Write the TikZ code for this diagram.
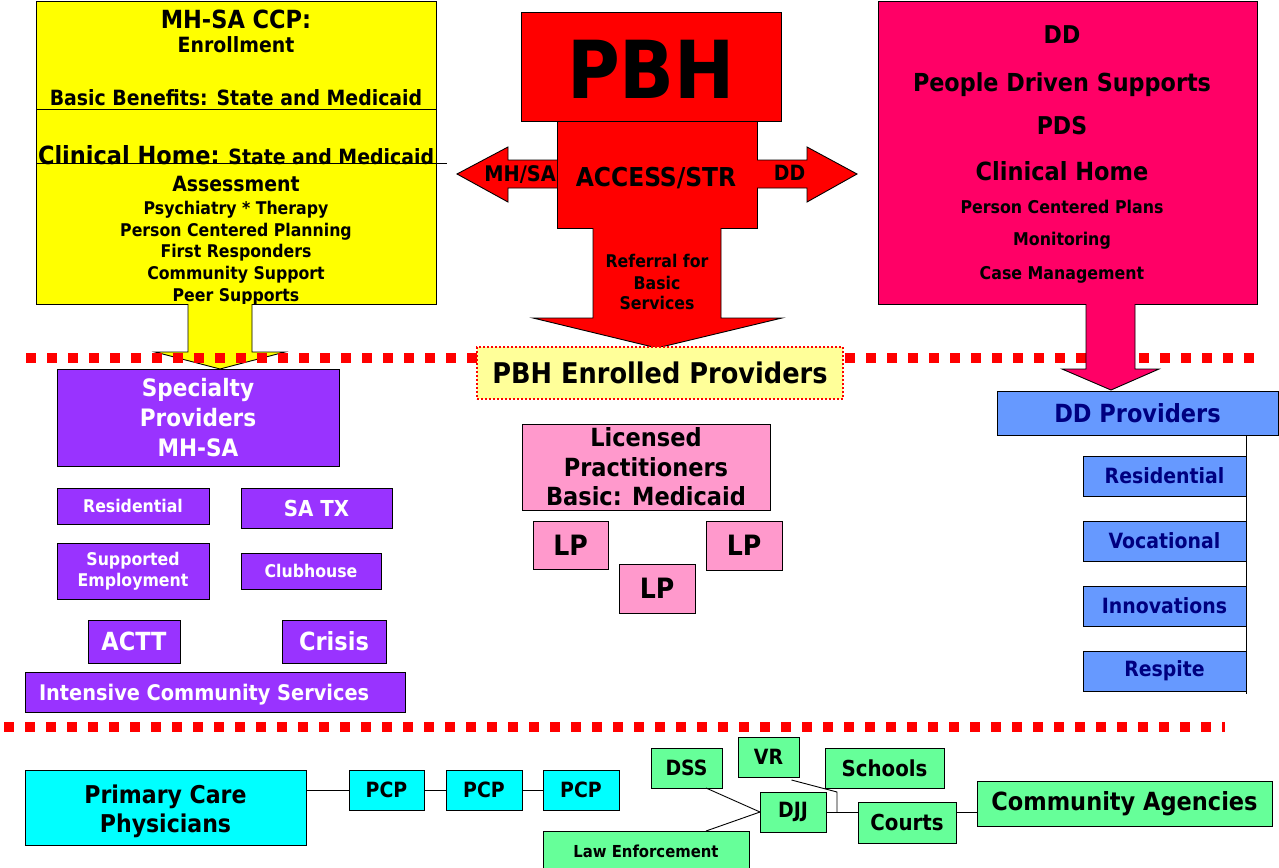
\documentclass[tikz,border=0pt]{standalone}
\usepackage{fontspec}
\setmainfont{DejaVu Sans Condensed}
\usetikzlibrary{calc}
\definecolor{yel}{HTML}{FFFF00}
\definecolor{pbhred}{HTML}{FF0000}
\definecolor{hotpink}{HTML}{FF0066}
\definecolor{purp}{HTML}{9933FF}
\definecolor{lpink}{HTML}{FF99CC}
\definecolor{ddblue}{HTML}{6699FF}
\definecolor{navy}{HTML}{000080}
\definecolor{cyanb}{HTML}{00FFFF}
\definecolor{grn}{HTML}{66FF99}
\definecolor{lyel}{HTML}{FFFF99}
\newcommand\fz[2]{\fontsize{#1}{#2}\selectfont\bfseries}
\newcommand\bx[7]{\node[#6, minimum width={(#4)-(#2)}, minimum height={(#5)-(#3)}] (#1) at ({((#2)+(#4))/2},{((#3)+(#5))/2}) {#7};}
\newcommand\tl[5]{\node[txt, font=\fz{#4}{#4}, anchor=base] (#1) at ({#2},{(#3)+0.365*(#4)}) {#5};}
\tikzset{
  x=1pt, y=-1pt,
  box/.style={draw=black, line width=0.9pt, inner sep=0pt, outer sep=0pt, align=center},
  txt/.style={inner sep=0pt, outer sep=0pt, align=center},
  yelbox/.style={box, fill=yel},
  redbox/.style={box, fill=pbhred},
  pinkbox/.style={box, fill=hotpink},
  purbox/.style={box, fill=purp, text=white},
  lpbox/.style={box, fill=lpink},
  blubox/.style={box, fill=ddblue, text=navy},
  cybox/.style={box, fill=cyanb},
  grbox/.style={box, fill=grn},
  arrowshape/.style={draw=black, line width=0.9pt, line join=miter},
  dotline/.style={draw=pbhred, line width=10pt, dash pattern=on 10pt off 11pt},
  conn/.style={draw=black, line width=0.9pt}
}
\begin{document}
\begin{tikzpicture}
\useasboundingbox (0,0) rectangle (1279,867);
\fill[white] (0,0) rectangle (1279,867);
% ---------- yellow MH-SA box
\bx{ccp}{36}{1}{436}{304}{yelbox}{}
\draw[conn] (ccp.west |- 0,109) -- (ccp.east |- 0,109);
\coordinate (chl) at (447,163);
\draw[conn] (ccp.west |- chl) -- (chl);
\tl{ccpA}{236}{19}{25}{MH-SA CCP:}
\tl{ccpB}{236}{45}{21}{Enrollment}
\tl{ccpC}{236}{98}{21}{Basic Benefits: State and Medicaid}
\node[txt, anchor=base west] (ccpD) at (38,164) {\fz{25}{25}Clinical Home:\fz{21}{21} State and Medicaid};
\tl{ccpE}{236}{184}{21}{Assessment}
\tl{ccpF}{236}{208}{17.5}{Psychiatry * Therapy}
\tl{ccpG}{236}{230}{17.5}{Person Centered Planning}
\tl{ccpH}{236}{251}{17.5}{First Responders}
\tl{ccpI}{236}{273}{17.5}{Community Support}
\tl{ccpJ}{236}{295}{17.5}{Peer Supports}
% yellow arrow (under the dotted line)
\filldraw[arrowshape, fill=yel] (188,304) -- (188,352) -- (155,352) -- (220,369) -- (285,352) -- (252,352) -- (252,304);
% ---------- PBH
\bx{pbh}{521}{12}{781}{121}{redbox}{}
\tl{pbhT}{651}{69.5}{80}{PBH}
\bx{acc}{557}{121}{757}{228}{redbox}{}
\filldraw[arrowshape, fill=pbhred] (557,160) -- (508,160) -- (508,147) -- (457,174) -- (508,202) -- (508,188) -- (557,188);
\filldraw[arrowshape, fill=pbhred] (757,160) -- (807,160) -- (807,147) -- (857,174) -- (807,202) -- (807,188) -- (757,188);
\filldraw[arrowshape, fill=pbhred] (593,228) -- (593,318) -- (533,318) -- (657,348) -- (782,318) -- (721,318) -- (721,228);
\tl{mhsa}{520}{174}{21.5}{MH/SA}
\tl{accT}{656}{177}{26}{ACCESS/STR}
\tl{ddT}{789.5}{173}{21}{DD}
\tl{refA}{657}{261}{17.5}{Referral for}
\tl{refB}{657}{283}{17.5}{Basic}
\tl{refC}{657}{303}{17.5}{Services}
% ---------- DD box
\bx{ddbox}{878}{1}{1257}{304}{pinkbox}{}
\tl{ddA}{1062}{35}{24.5}{DD}
\tl{ddB}{1062}{82}{24.8}{People Driven Supports}
\tl{ddC}{1062}{126}{24.5}{PDS}
\tl{ddD}{1062}{171}{25}{Clinical Home}
\tl{ddE}{1062}{207}{17.6}{Person Centered Plans}
\tl{ddF}{1062}{239}{17.6}{Monitoring}
\tl{ddG}{1062}{273}{17.6}{Case Management}
% ---------- dotted separators
\coordinate (sepAl) at (26,358); \coordinate (sepAr) at (1257,358);
\draw[dotline] (sepAl) -- (sepAr);
\coordinate (sepBl) at (4,727); \coordinate (sepBr) at (1225,727);
\draw[dotline] (sepBl) -- (sepBr);
% pink arrow (over the dotted line)
\filldraw[arrowshape, fill=hotpink] (1086,304) -- (1086,369) -- (1062,369) -- (1111,390) -- (1159,369) -- (1135,369) -- (1135,304);
% ---------- PBH Enrolled Providers
\bx{enr}{477}{347}{843}{399}{box, fill=lyel, draw=pbhred, line width=2pt, dash pattern=on 2pt off 2pt, font=\fz{28.5}{28.5}}{PBH Enrolled Providers}
% ---------- Specialty providers
\bx{spec}{57}{369}{339}{466}{purbox, font=\fz{24}{30}}{Specialty\\Providers\\MH-SA}
\bx{pres}{57}{488}{209}{524}{purbox, font=\fz{17.5}{17.5}}{Residential}
\bx{satx}{241}{488}{392}{528}{purbox, font=\fz{22}{22}}{SA TX}
\bx{semp}{57}{543}{209}{599}{purbox, font=\fz{17.5}{21}}{Supported\\Employment}
\bx{club}{241}{553}{381}{589}{purbox, font=\fz{17.5}{17.5}}{Clubhouse}
\bx{actt}{88}{620}{180}{663}{purbox, font=\fz{25}{25}}{ACTT}
\bx{cris}{282}{620}{386}{663}{purbox, font=\fz{25}{25}}{Crisis}
\bx{ics}{25}{672}{405}{712}{purbox}{}
\node[txt, text=white, font=\fz{21.5}{21.5}, anchor=base west] (icsT) at (39,700) {Intensive Community Services};
% ---------- Licensed practitioners
\bx{lic}{522}{424}{770}{510}{lpbox, font=\fz{25}{29.5}}{Licensed\\Practitioners\\Basic: Medicaid}
\bx{lpA}{533}{521}{608}{569}{lpbox, font=\fz{28}{28}}{LP}
\bx{lpB}{619}{564}{695}{613}{lpbox, font=\fz{28}{28}}{LP}
\bx{lpC}{706}{521}{782}{570}{lpbox, font=\fz{28}{28}}{LP}
% ---------- DD providers
\bx{ddp}{997}{391}{1278}{435}{blubox, font=\fz{25}{25}}{DD Providers}
\bx{dres}{1083}{456}{1246}{496}{blubox, font=\fz{21}{21}}{Residential}
\bx{dvoc}{1083}{521}{1246}{561}{blubox, font=\fz{21}{21}}{Vocational}
\bx{dinn}{1083}{586}{1246}{626}{blubox, font=\fz{21}{21}}{Innovations}
\bx{dres2}{1083}{651}{1246}{691}{blubox, font=\fz{21}{21}}{Respite}
\coordinate (ddend) at (1246,694);
\draw[conn] (ddend |- ddp.south) -- (ddend);
% ---------- bottom row
\bx{prim}{25}{770}{306}{845}{cybox}{}
\tl{primA}{165.5}{795}{24.5}{Primary Care}
\tl{primB}{165.5}{824}{24.5}{Physicians}
\bx{pcpA}{349}{770}{424}{810}{cybox, font=\fz{21}{21}}{PCP}
\bx{pcpB}{446}{770}{522}{810}{cybox, font=\fz{21}{21}}{PCP}
\bx{pcpC}{543}{770}{619}{810}{cybox, font=\fz{21}{21}}{PCP}
\draw[conn] (prim.east |- pcpA.west) -- (pcpA.west);
\draw[conn] (pcpA) -- (pcpB);
\draw[conn] (pcpB) -- (pcpC);
\bx{dss}{651}{748}{722}{788}{grbox, font=\fz{21}{21}}{DSS}
\bx{vr}{738}{737}{799}{777}{grbox, font=\fz{21}{21}}{VR}
\bx{sch}{825}{748}{944}{788}{grbox, font=\fz{22}{22}}{Schools}
\bx{djj}{760}{792}{826}{832}{grbox, font=\fz{21}{21}}{DJJ}
\bx{crt}{858}{802}{956}{843}{grbox, font=\fz{22}{22}}{Courts}
\bx{comm}{977}{781}{1272}{826}{grbox, font=\fz{25}{25}}{Community Agencies}
\bx{law}{543}{831}{749}{872}{grbox, font=\fz{16.5}{16.5}}{Law Enforcement}
\draw[conn] ($(dss.south)+(19.5,0)$) -- (djj.west);
\draw[conn] ($(law.north)+(60,0)$) -- (djj.west);
\coordinate (vrj) at (837,792);
\draw[conn] ($(vr.south)+(23,3)$) -- (vrj) -- (vrj |- djj.east);
\draw[conn] (djj.east) -- (djj.east -| crt.west);
\draw[conn] (crt.east |- djj.east) -- (comm.west |- djj.east);
\end{tikzpicture}
\end{document}
